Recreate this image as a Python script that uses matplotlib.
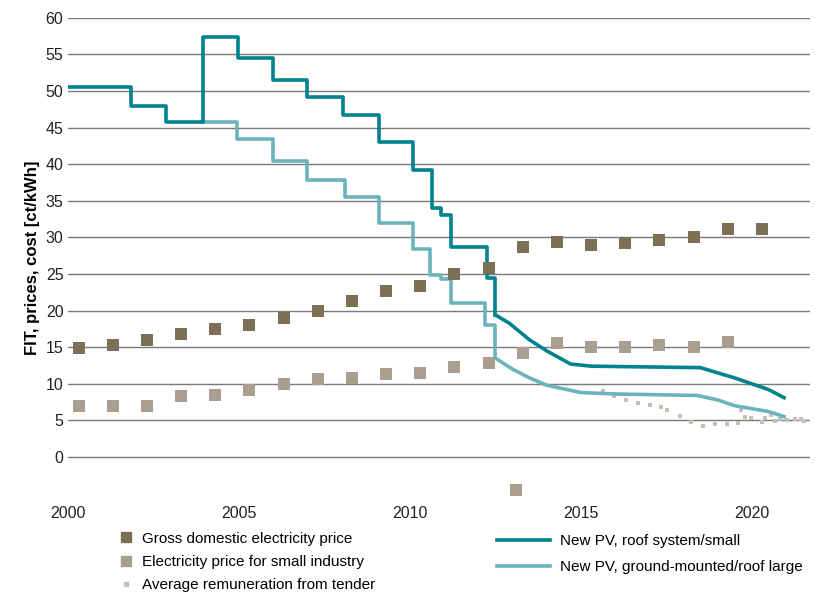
import matplotlib
matplotlib.use("Agg")
import matplotlib.pyplot as plt
from matplotlib.lines import Line2D

plt.rcParams['font.family'] = ['Liberation Sans', 'DejaVu Sans']

# step feed-in tariffs (year, value) - value valid from year onward
roof_x = [2000, 2001.84, 2002.87, 2003.95, 2004.97, 2006.0, 2007.0, 2008.05, 2009.1, 2010.1,
          2010.65, 2010.9, 2011.2, 2012.25, 2012.5]
roof_y = [50.5, 48.0, 45.7, 57.4, 54.5, 51.5, 49.2, 46.7, 43.0, 39.2, 34.0, 33.0, 28.7, 24.5, 19.4]
roof_tail_x = [2012.9, 2013.5, 2014.0, 2014.7, 2015.3, 2018.5, 2019.5, 2020.5, 2020.95]
roof_tail_y = [18.3, 16.0, 14.5, 12.7, 12.4, 12.2, 10.8, 9.2, 8.1]

ground_x = [2003.95, 2004.94, 2006.0, 2007.0, 2008.1, 2009.1, 2010.1, 2010.6, 2010.9, 2011.2, 2012.2, 2012.5]
ground_y = [45.7, 43.4, 40.5, 37.8, 35.5, 32.0, 28.4, 24.9, 24.3, 21.0, 18.0, 13.5]
ground_tail_x = [2013.0, 2013.5, 2014.0, 2015.0, 2016.0, 2018.4, 2019.0, 2019.5, 2020.5, 2020.95]
ground_tail_y = [12.0, 10.8, 9.8, 8.8, 8.6, 8.4, 7.8, 7.0, 6.2, 5.5]

years = list(range(2000, 2021))
gross = [14.9, 15.3, 16.0, 16.8, 17.5, 18.0, 19.0, 20.0, 21.3, 22.7, 23.3, 25.0, 25.8,
         28.7, 29.3, 28.9, 29.2, 29.6, 30.1, 31.1, 31.2]
industry = [7.0, 7.0, 7.0, 8.3, 8.5, 9.2, 10.0, 10.7, 10.8, 11.3, 11.5, 12.3, 12.8,
            14.2, 15.6, 15.0, 15.0, 15.3, 15.0, 15.7]
industry_extra_x = [2013.1]
industry_extra_y = [-4.5]

tender_px = [603, 614, 626, 638, 650, 661, 667, 680, 691, 703, 715, 727, 738, 741, 745,
             751, 762, 765, 771, 775, 780, 787, 795, 801, 804]
tender_y = [9.0, 8.3, 7.8, 7.4, 7.1, 6.8, 6.4, 5.6, 4.8, 4.2, 4.5, 4.5, 4.6, 6.4, 5.5,
            5.3, 4.8, 5.3, 5.7, 4.9, 5.2, 5.1, 5.2, 5.2, 4.9]
tender_x = [2000 + (p - 68) / 34.2 for p in tender_px]

c_roof = '#00838f'
c_ground = '#6bb3bd'
c_gross = '#7d6f55'
c_ind = '#aa9e8e'
c_tender = '#c8bfb4'

fig = plt.figure(figsize=(8.33, 5.94), dpi=100)
ax = fig.add_axes([0.082, 0.163, 0.89, 0.807])

ax.step(roof_x, roof_y, where='post', color=c_roof, lw=2.6, zorder=4)
ax.plot([roof_x[-1]] + roof_tail_x, [roof_y[-1]] + roof_tail_y, color=c_roof, lw=2.6, zorder=4)
ax.step(ground_x, ground_y, where='post', color=c_ground, lw=2.6, zorder=3)
ax.plot([ground_x[-1]] + ground_tail_x, [ground_y[-1]] + ground_tail_y, color=c_ground, lw=2.6, zorder=3)

gx = [y + 0.3 for y in years]
ax.scatter(gx, gross, marker='s', s=70, color=c_gross, zorder=5, linewidths=0)
ax.scatter(gx[:len(industry)], industry, marker='s', s=70, color=c_ind, zorder=5, linewidths=0)
ax.scatter(industry_extra_x, industry_extra_y, marker='s', s=70, color=c_ind, zorder=5,
           linewidths=0, clip_on=False)
ax.scatter(tender_x, tender_y, marker='s', s=10, color=c_tender, zorder=2, linewidths=0)

ax.set_xlim(2000, 2021.7)
ax.set_ylim(-5.5, 60)
ax.set_yticks(range(0, 61, 5))
ax.set_xticks([2000, 2005, 2010, 2015, 2020])
ax.grid(axis='y', color='#7a7a7a', lw=1.0)
ax.set_axisbelow(True)
for s in ax.spines.values():
    s.set_visible(False)
ax.tick_params(length=0, labelsize=11.5, colors='#222222')
ax.tick_params(axis='x', pad=6)
ax.set_ylabel('FIT, prices, cost [ct/kWh]', fontsize=12, fontweight='bold', labelpad=4)

h1 = [Line2D([], [], ls='', marker='s', ms=7, color=c_gross),
      Line2D([], [], ls='', marker='s', ms=7, color=c_ind),
      Line2D([], [], ls='', marker='s', ms=3, color=c_tender)]
l1 = ['Gross domestic electricity price', 'Electricity price for small industry',
      'Average remuneration from tender']
h2 = [Line2D([], [], color=c_roof, lw=2.6), Line2D([], [], color=c_ground, lw=2.6)]
l2 = ['New PV, roof system/small', 'New PV, ground-mounted/roof large']
fig.legend(h1, l1, loc='lower left', bbox_to_anchor=(0.125, -0.02), frameon=False,
           fontsize=11, handlelength=1.0, labelspacing=0.6, handletextpad=0.6)
fig.legend(h2, l2, loc='lower left', bbox_to_anchor=(0.58, 0.01), frameon=False,
           fontsize=11, handlelength=3.5, labelspacing=0.8, handletextpad=0.6)

fig.savefig('out.png', dpi=100)
